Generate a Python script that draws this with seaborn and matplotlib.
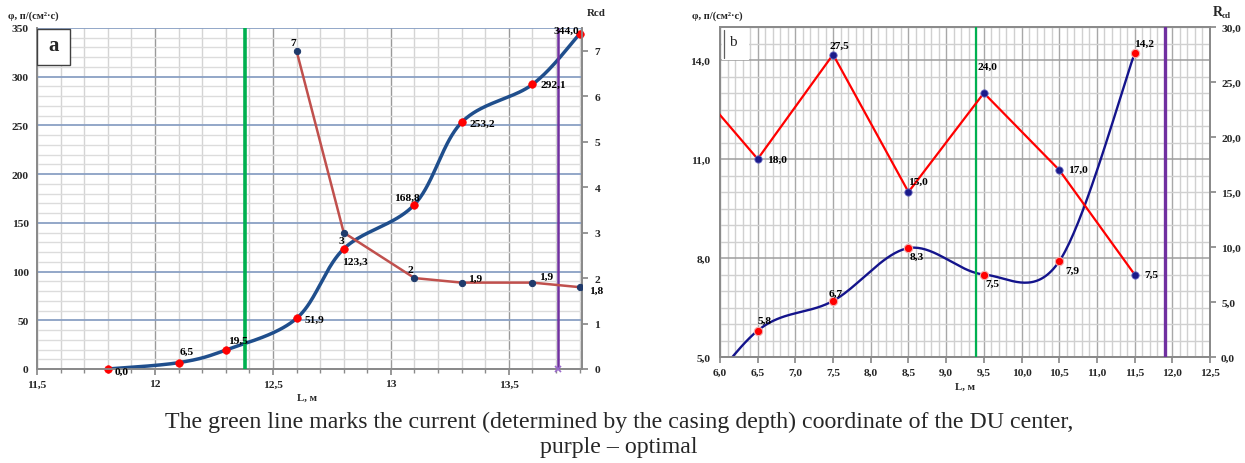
import numpy as np
import pandas as pd
import matplotlib
matplotlib.use("Agg")
import matplotlib.pyplot as plt
import seaborn as sns
from matplotlib.ticker import MultipleLocator, FixedLocator, FuncFormatter
from matplotlib.patches import Rectangle

# ---------------- data ----------------
# panel a
a_L = [11.8, 12.1, 12.3, 12.6, 12.8, 13.1, 13.3, 13.6, 13.8]
a_phi = [0.0, 6.5, 19.5, 51.9, 123.3, 168.8, 253.2, 292.1, 344.0]
a_rcd_L = [12.6, 12.8, 13.1, 13.3, 13.6, 13.8]
a_rcd = [7, 3, 2, 1.9, 1.9, 1.8]
a_green = 12.38
a_purple = 13.71

# panel b (first point lies left of the visible range)
b_L = [5.5, 6.5, 7.5, 8.5, 9.5, 10.5, 11.5]
b_phi = [3.0, 5.8, 6.7, 8.3, 7.5, 7.9, 14.2]
b_rcd = [26.0, 18.0, 27.5, 15.0, 24.0, 17.0, 7.5]
b_green = 9.4
b_purple = 11.9

caption1 = "The green line marks the current (determined by the casing depth) coordinate of the DU center,"
caption2 = "purple \u2013 optimal"
ylabel_txt = "\u03c6, \u043f/(\u0441\u043c\u00b2\u00b7\u0441)"
xlabel_txt = "L, \u043c"

# label offsets in pixels (dx, dy up), alignment
a_phi_off = [(7, -2, 'left'), (1, 11, 'left'), (2, 10, 'left'), (8, -1, 'left'), (-2, -12, 'left'),
             (5, 7, 'right'), (8, -1, 'left'), (8, 0, 'left'), (-1, 4, 'right')]
a_rcd_off = [(-3, 8, 'center'), (-2, -8, 'center'), (-4, 9, 'center'), (6, 4, 'left'), (7, 6, 'left'), (9, -3, 'left')]
b_phi_off = [None, (0, 10, 'left'), (3, 8, 'center'), (1, -8, 'left'), (2, -9, 'left'), (6, -9, 'left'), (9, 10, 'center')]
b_rcd_off = [None, (9, 0, 'left'), (6, 9, 'center'), (9, 11, 'center'), (4, 27, 'center'), (9, 1, 'left'), (10, 0, 'left')]

sns.set_theme(style="white")
plt.rcParams['font.family'] = ['Liberation Serif', 'DejaVu Serif']
plt.rcParams['axes.unicode_minus'] = False

W, H = 1245, 464
fig = plt.figure(figsize=(W / 100, H / 100), dpi=100)
fig.patch.set_facecolor('white')


def ax_rect(x0, y0, x1, y1):
    return [x0 / W, 1 - y1 / H, (x1 - x0) / W, (y1 - y0) / H]


def px(x, y):
    return x / W, 1 - y / H


def catmull_rom(x, y, n=40):
    P = np.column_stack([x, y]).astype(float)
    P = np.vstack([P[0], P, P[-1]])
    t = np.linspace(0, 1, n)[:, None]
    h00 = 2 * t**3 - 3 * t**2 + 1
    h10 = t**3 - 2 * t**2 + t
    h01 = -2 * t**3 + 3 * t**2
    h11 = t**3 - t**2
    segs = []
    for i in range(1, len(P) - 2):
        p0, p1, p2, p3 = P[i - 1], P[i], P[i + 1], P[i + 2]
        m1 = (p2 - p0) / 2
        m2 = (p3 - p1) / 2
        segs.append(h00 * p1 + h10 * m1 + h01 * p2 + h11 * m2)
    c = np.vstack(segs)
    return c[:, 0], c[:, 1]


def comma(v, fmt):
    return format(v, fmt).replace('.', ',')


def label(host, data_ax, x, y, txt, off, size=8.2):
    dx, dy, ha = off
    host.annotate(txt, (x, y), xycoords=data_ax.transData, xytext=(dx * 0.72, dy * 0.72),
                  textcoords='offset points', ha=ha, va='center', fontsize=size,
                  fontweight='bold', color='black', annotation_clip=False, zorder=10)


# ================= panel a =================
axa = fig.add_axes(ax_rect(37, 29, 582, 370))
axa2 = axa.twinx()
axa.set_xlim(11.5, 13.81)
axa.set_ylim(0, 350)
axa2.set_ylim(0, 7.5)

axa.xaxis.set_major_locator(MultipleLocator(0.5))
axa.xaxis.set_minor_locator(MultipleLocator(0.1))
axa.yaxis.set_major_locator(MultipleLocator(50))
axa.yaxis.set_minor_locator(MultipleLocator(10))
axa.set_axisbelow(True)
axa.xaxis.grid(True, which='minor', color='#D4D4D4', lw=1.0)
axa.xaxis.grid(True, which='major', color='#9A9A9A', lw=1.0)
axa.yaxis.grid(True, which='minor', color='#DCDCDC', lw=1.0)
axa.yaxis.grid(True, which='major', color='#8AA0C4', lw=1.3)
axa.xaxis.set_major_formatter(FuncFormatter(lambda v, p: comma(v, 'g')))
axa.yaxis.set_major_formatter(FuncFormatter(lambda v, p: f"{v:.0f}"))
axa2.yaxis.set_major_locator(MultipleLocator(1))
axa2.yaxis.set_major_formatter(FuncFormatter(lambda v, p: f"{v:.0f}"))
axa.tick_params(axis='x', which='major', length=4, pad=3.5, color='#8A8A8A', bottom=True)
axa.tick_params(axis='x', which='minor', length=3, color='#8A8A8A', bottom=True)
axa.tick_params(axis='y', which='both', length=0, pad=6)
axa2.tick_params(axis='y', length=4, pad=5, color='#8A8A8A', right=True)
for lab in axa.get_xticklabels() + axa.get_yticklabels() + axa2.get_yticklabels():
    lab.set_fontsize(8.2)
    lab.set_fontweight('bold')
for sp in ['left', 'bottom', 'right']:
    axa.spines[sp].set_color('#8A8A8A')
    axa2.spines[sp].set_color('#8A8A8A')
axa.spines['top'].set_visible(False)
axa2.spines['top'].set_visible(False)

# Rcd straight line
dfa_r = pd.DataFrame({'L': a_rcd_L, 'Rcd': a_rcd})
sns.lineplot(data=dfa_r, x='L', y='Rcd', ax=axa2, color='#C0504D', lw=1.8, sort=False,
             marker='o', markersize=4.5, markerfacecolor='#1F3A6B', markeredgecolor='#1F3A6B', zorder=4)
# phi smooth curve
sx, sy = catmull_rom(a_L, a_phi)
axa.plot(sx, sy, color='#1F4E8C', lw=2.5, zorder=5)
dfa = pd.DataFrame({'L': a_L, 'phi': a_phi})
sns.scatterplot(data=dfa, x='L', y='phi', ax=axa, color='#FF0000', s=30, edgecolor='#FF0000',
                zorder=6, clip_on=False)

axa2.axvline(a_green, color='#00B050', lw=2.6, zorder=3)
axa2.axvline(a_purple, color='#7030A0', lw=1.8, zorder=3)
axa2.plot([a_purple], [0], marker='x', color='#9A6ACB', ms=5, mew=1.2, clip_on=False, zorder=3)

for a in (axa, axa2):
    a.set_xlabel('')
    a.set_ylabel('')

for x, y, o in zip(a_L, a_phi, a_phi_off):
    label(axa2, axa, x, y, comma(y, '.1f'), o)
for x, y, o in zip(a_rcd_L, a_rcd, a_rcd_off):
    label(axa2, axa2, x, y, comma(y, 'g'), o)

# box "a"
axa2.add_patch(Rectangle(px(37, 66), 33 / W, 36 / H, transform=fig.transFigure, fc='white',
                         ec='#404040', lw=1.0, zorder=20))
fig.text(*px(53.5, 46), 'a', fontsize=15, fontweight='bold', ha='center', va='center', zorder=21)

fig.text(*px(8, 16), ylabel_txt, fontsize=7.6, fontweight='bold', ha='left', va='center')
fig.text(*px(596, 13), 'Rcd', fontsize=7.8, fontweight='bold', ha='center', va='center')
fig.text(*px(297, 398), xlabel_txt, fontsize=7.8, fontweight='bold', ha='left', va='center')

# ================= panel b =================
axb = fig.add_axes(ax_rect(720, 28, 1210, 358))
axb2 = axb.twinx()
axb.set_xlim(6.0, 12.5)
axb.set_ylim(5.0, 15.0)
axb2.set_ylim(0, 30)

axb.xaxis.set_major_locator(MultipleLocator(0.5))
axb.xaxis.set_minor_locator(MultipleLocator(0.1))
axb.yaxis.set_major_locator(FixedLocator([5.0, 8.0, 11.0, 14.0]))
axb.yaxis.set_minor_locator(MultipleLocator(0.5))
axb.set_axisbelow(True)
axb.xaxis.grid(True, which='minor', color='#D0D0D0', lw=1.0)
axb.xaxis.grid(True, which='major', color='#A8A8A8', lw=1.0)
axb.yaxis.grid(True, which='minor', color='#D0D0D0', lw=1.0)
axb.yaxis.grid(True, which='major', color='#9E9E9E', lw=1.1)
axb.xaxis.set_major_formatter(FuncFormatter(lambda v, p: comma(v, '.1f')))
axb.yaxis.set_major_formatter(FuncFormatter(lambda v, p: comma(v, '.1f')))
axb2.yaxis.set_major_locator(MultipleLocator(5))
axb2.yaxis.set_major_formatter(FuncFormatter(lambda v, p: comma(v, '.1f')))
axb.tick_params(axis='x', which='major', length=4, pad=4, color='#8A8A8A', bottom=True)
axb.tick_params(axis='x', which='minor', length=0)
axb.tick_params(axis='y', which='both', length=0, pad=7)
axb2.tick_params(axis='y', length=4, pad=4, color='#8A8A8A', right=True)
for lab in axb.get_xticklabels() + axb.get_yticklabels() + axb2.get_yticklabels():
    lab.set_fontsize(8.2)
    lab.set_fontweight('bold')
for sp in ['left', 'bottom', 'right', 'top']:
    axb.spines[sp].set_color('#8A8A8A')
    axb2.spines[sp].set_color('#8A8A8A')

dfb = pd.DataFrame({'L': b_L, 'phi': b_phi, 'Rcd': b_rcd})
sns.lineplot(data=dfb, x='L', y='Rcd', ax=axb2, color='#FF0000', lw=1.6, sort=False, zorder=4)
sns.scatterplot(data=dfb, x='L', y='Rcd', ax=axb2, color='#1A1A8A', s=28, edgecolor='#6A6AC0',
                linewidth=0.6, zorder=5)
bx, by = catmull_rom(b_L, b_phi)
axb.plot(bx, by, color='#14148C', lw=1.7, zorder=5)
sns.scatterplot(data=dfb, x='L', y='phi', ax=axb, color='#FF0000', s=36, edgecolor='#F0B0B0',
                linewidth=0.8, zorder=6)
axb2.axvline(b_green, color='#00B050', lw=1.6, zorder=3)
axb2.axvline(b_purple, color='#7030A0', lw=2.4, zorder=3)
for a in (axb, axb2):
    a.set_xlabel('')
    a.set_ylabel('')
axb.set_xlim(6.0, 12.5)

for x, y, o in zip(b_L, b_phi, b_phi_off):
    if o is not None:
        label(axb2, axb, x, y, comma(y, '.1f'), o)
for x, y, o in zip(b_L, b_rcd, b_rcd_off):
    if o is not None:
        label(axb2, axb2, x, y, comma(y, '.1f'), o)

# box "b"
axb2.add_patch(Rectangle(px(722, 61), 27 / W, 32 / H, transform=fig.transFigure, fc='white',
                         ec='none', zorder=20))
axb2.plot([724 / W, 724 / W], [1 - 31 / H, 1 - 59 / H], transform=fig.transFigure, color='#606060',
          lw=0.9, zorder=21, clip_on=False)
fig.text(*px(733, 42), 'b', fontsize=11, ha='center', va='center', zorder=22)

fig.text(*px(692, 16), ylabel_txt, fontsize=7.6, fontweight='bold', ha='left', va='center')
fig.text(*px(1213, 12), 'R', fontsize=10, fontweight='bold', ha='left', va='center')
fig.text(*px(1222, 16), 'cd', fontsize=6.5, fontweight='bold', ha='left', va='center')
fig.text(*px(955, 387), xlabel_txt, fontsize=7.8, fontweight='bold', ha='left', va='center')

# caption
fig.text(*px(619, 422), caption1, fontsize=17.2, ha='center', va='center')
fig.text(*px(619, 448), caption2, fontsize=17.2, ha='center', va='center')

fig.savefig('out.png', dpi=100, facecolor='white')
